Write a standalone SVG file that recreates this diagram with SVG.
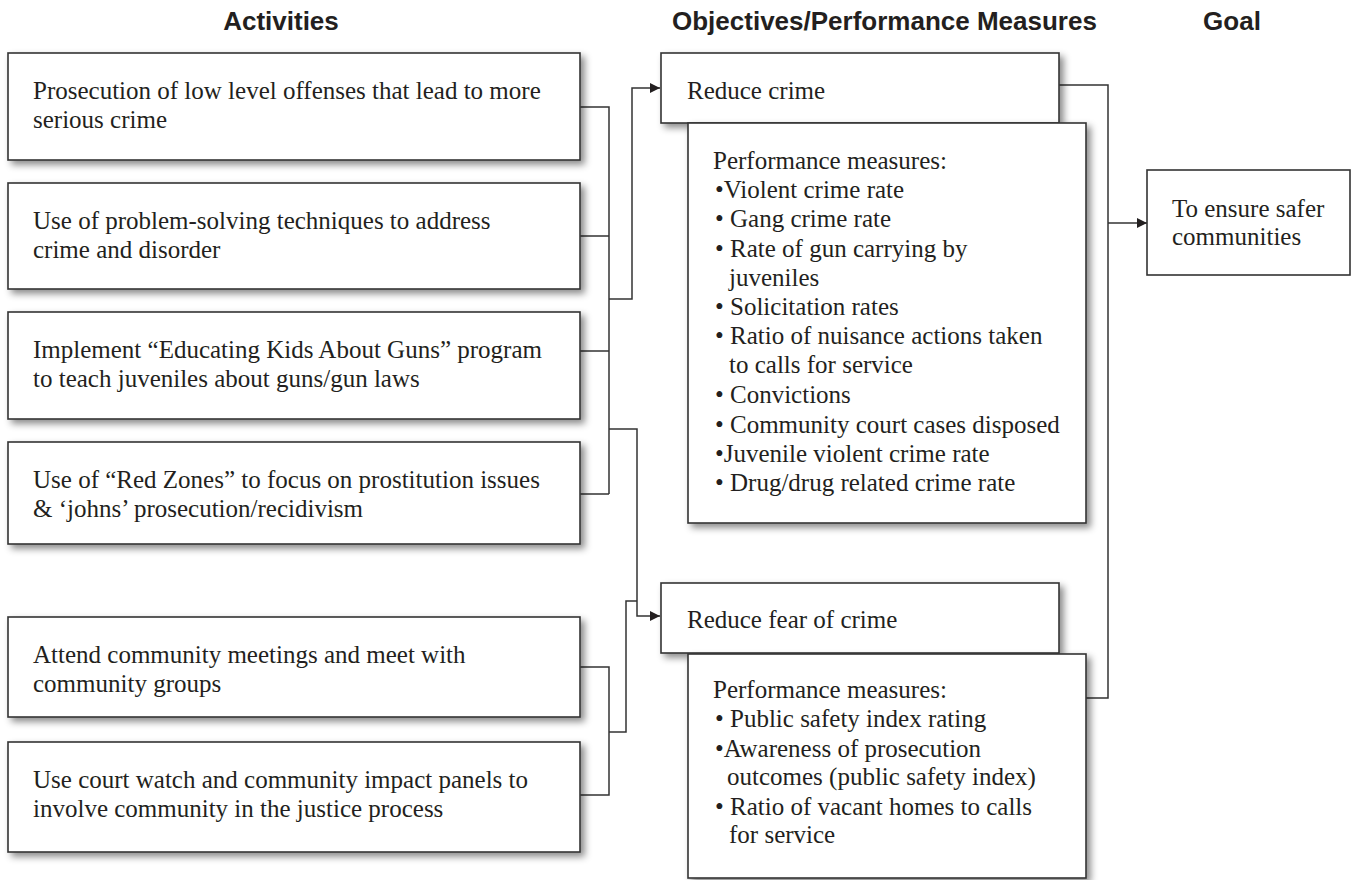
<svg xmlns="http://www.w3.org/2000/svg" width="1352" height="880" viewBox="0 0 1352 880">
<style>
.hdr{font-family:"Liberation Sans",Arial,sans-serif;font-weight:bold;font-size:26px;fill:#231f20}
.t{font-family:"Liberation Serif","Times New Roman",serif;font-size:25px;fill:#231f20}
.box{fill:#fff;stroke:#333;stroke-width:1.6}
.sh{filter:url(#shadow)}
.conn{fill:none;stroke:#333;stroke-width:1.5}
</style>
<defs>
<filter id="shadow" x="-10%" y="-10%" width="130%" height="140%">
<feDropShadow dx="4" dy="4" stdDeviation="3.5" flood-color="#000" flood-opacity="0.45"/>
</filter>
<marker id="arr" viewBox="0 0 10 10" refX="10" refY="5" markerWidth="10" markerHeight="10" markerUnits="userSpaceOnUse" orient="auto">
<path d="M0,0 L10,5 L0,10 z" fill="#231f20"/>
</marker>
</defs>
<rect width="1352" height="880" fill="#fff"/>

<g id="headers">
<text class="hdr" x="281" y="30" text-anchor="middle">Activities</text>
<text class="hdr" x="672" y="30">Objectives/Performance Measures</text>
<text class="hdr" x="1232" y="30" text-anchor="middle">Goal</text>
</g>

<g id="connectors">
<path class="conn" d="M580,107 H609 V494 M580,236 H609 M580,351 H609 M580,494 H609"/>
<path class="conn" d="M609,299 H632 V88 H660" marker-end="url(#arr)"/>
<path class="conn" d="M609,429 H637 V616 H660" marker-end="url(#arr)"/>
<path class="conn" d="M580,667 H609 V795 H580 M609,732 H626 V601 H637"/>
<path class="conn" d="M1059,85 H1108 V698 H1086"/>
<path class="conn" d="M1108,223 H1147" marker-end="url(#arr)"/>
</g>

<g id="act1">
<rect class="box sh" x="8" y="53" width="572" height="107"/>
<text class="t" x="33" y="99">Prosecution of low level offenses that lead to more</text>
<text class="t" x="33" y="128">serious crime</text>
</g>
<g id="act2">
<rect class="box sh" x="8" y="183" width="572" height="106"/>
<text class="t" x="33" y="229">Use of problem-solving techniques to address</text>
<text class="t" x="33" y="258">crime and disorder</text>
</g>
<g id="act3">
<rect class="box sh" x="8" y="312" width="572" height="107"/>
<text class="t" x="33" y="358">Implement “Educating Kids About Guns” program</text>
<text class="t" x="33" y="387">to teach juveniles about guns/gun laws</text>
</g>
<g id="act4">
<rect class="box sh" x="8" y="442" width="572" height="102"/>
<text class="t" x="33" y="488">Use of “Red Zones” to focus on prostitution issues</text>
<text class="t" x="33" y="517">&amp; ‘johns’ prosecution/recidivism</text>
</g>
<g id="act5">
<rect class="box sh" x="8" y="617" width="572" height="100"/>
<text class="t" x="33" y="663">Attend community meetings and meet with</text>
<text class="t" x="33" y="692">community groups</text>
</g>
<g id="act6">
<rect class="box sh" x="8" y="742" width="572" height="110"/>
<text class="t" x="33" y="788">Use court watch and community impact panels to</text>
<text class="t" x="33" y="817">involve community in the justice process</text>
</g>

<g id="obj1">
<rect class="box sh" x="661" y="53" width="398" height="70"/>
<text class="t" x="687" y="99">Reduce crime</text>
</g>
<g id="pm1">
<rect class="box sh" x="688" y="123" width="398" height="400"/>
<text class="t" x="713" y="169">Performance measures:</text>
<text class="t" x="715" y="198">•Violent crime rate</text>
<text class="t" x="715" y="227">• Gang crime rate</text>
<text class="t" x="715" y="257">• Rate of gun carrying by</text>
<text class="t" x="729" y="286">juveniles</text>
<text class="t" x="715" y="315">• Solicitation rates</text>
<text class="t" x="715" y="344">• Ratio of nuisance actions taken</text>
<text class="t" x="729" y="373">to calls for service</text>
<text class="t" x="715" y="403">• Convictions</text>
<text class="t" x="715" y="433">• Community court cases disposed</text>
<text class="t" x="715" y="462">•Juvenile violent crime rate</text>
<text class="t" x="715" y="491">• Drug/drug related crime rate</text>
</g>

<g id="obj2">
<rect class="box sh" x="661" y="583" width="398" height="70"/>
<text class="t" x="687" y="628">Reduce fear of crime</text>
</g>
<g id="pm2">
<rect class="box sh" x="688" y="654" width="398" height="224"/>
<text class="t" x="713" y="698">Performance measures:</text>
<text class="t" x="715" y="727">• Public safety index rating</text>
<text class="t" x="715" y="757">•Awareness of prosecution</text>
<text class="t" x="727" y="785">outcomes (public safety index)</text>
<text class="t" x="715" y="815">• Ratio of vacant homes to calls</text>
<text class="t" x="729" y="843">for service</text>
</g>

<g id="goal">
<rect class="box" x="1147" y="170" width="203" height="105"/>
<text class="t" x="1172" y="217">To ensure safer</text>
<text class="t" x="1172" y="245">communities</text>
</g>
</svg>
